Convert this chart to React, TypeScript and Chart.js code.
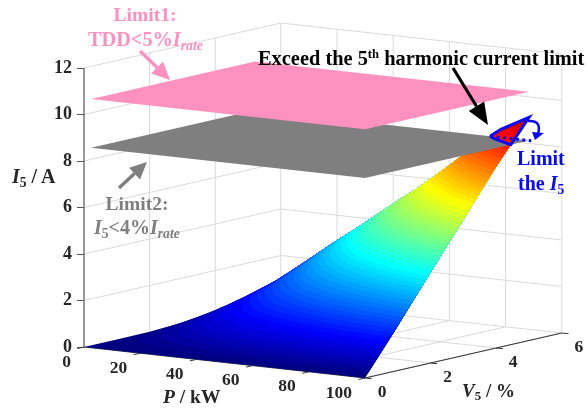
import React, { useEffect, useRef } from "react";
import { Chart, registerables } from "chart.js";

Chart.register(...registerables);

// ---- data ----
const P_GRID = [0, 10, 20, 30, 40, 50, 60, 70, 80, 90, 100];
const V_GRID = [0, 1, 2, 3, 4, 5];
const I_V0 = [0, 0, 0, 0, 0, 0, 0, 0, 0, 0, 0];
const I_V1 = [0, 0.18, 0.4, 0.62, 0.82, 1.0, 1.18, 1.38, 1.56, 1.75, 1.92];
const I_V2 = [0.01, 0.4, 0.82, 1.22, 1.62, 2.0, 2.38, 2.76, 3.14, 3.52, 3.9];
const I_V3 = [0.09, 0.66, 1.26, 1.84, 2.42, 3.0, 3.56, 4.14, 4.72, 5.28, 5.85];
const I_V4 = [0.26, 0.98, 1.72, 2.5, 3.26, 4.02, 4.78, 5.52, 6.28, 7.04, 7.8];
const I_V5 = [0.6, 1.38, 2.3, 3.25, 4.15, 5.1, 6.0, 7.0, 8.05, 8.95, 9.6];
const I_TABLE = [I_V0, I_V1, I_V2, I_V3, I_V4, I_V5];

const LIMIT1 = 10.7;
const LIMIT2 = 8.6;
const PLANE_P_MIN = 2.5;

const P_TICKS = [0, 20, 40, 60, 80, 100];
const V_TICKS = [0, 2, 4, 6];
const I_TICKS = [0, 2, 4, 6, 8, 10, 12];

// ---- view of the box ----
const X0 = 84;
const PX_P = 2.81;
const PX_V = 32.8;
const PY_P = 0.31;
const PY_V = -7.5;
const PX_I = 23.25;
const Y_ZERO = 347;
const W = 587;
const H = 409;

type Pt = { x: number; y: number };
const proj = (p: number, v: number, i: number): Pt => ({
  x: X0 + p * PX_P + v * PX_V,
  y: i - (p * PY_P + v * PY_V) / PX_I,
});

const SERIF = '"Liberation Serif", "Times New Roman", serif';
const GRID = "#dadada";
const AXIS = "#3a3a3a";
const PINK = "#ff91c1";
const GRAY = "#7f7f7f";
const BLUE = "#0a0aee";

const clamp = (x: number) => Math.max(0, Math.min(1, x));
const jet = (level: number) => {
  const t = level / 10;
  const c = (o: number) => Math.round(255 * clamp(1.5 - Math.abs(4 * t - o)));
  return `rgb(${c(3)},${c(2)},${c(1)})`;
};

function region(level: number): Pt[] {
  const pts: { p: number; v: number }[] = [];
  V_GRID.forEach((v, r) => {
    P_GRID.forEach((p, c) => {
      const a = I_TABLE[r][c];
      if (c + 1 < P_GRID.length) {
        const b = I_TABLE[r][c + 1];
        if (a < level !== b < level) pts.push({ p: p + ((level - a) / (b - a)) * (P_GRID[c + 1] - p), v });
      }
      if (r + 1 < V_GRID.length) {
        const b = I_TABLE[r + 1][c];
        if (a < level !== b < level) pts.push({ p, v: v + ((level - a) / (b - a)) * (V_GRID[r + 1] - v) });
      }
    });
  });
  pts.sort((m, n) => m.p - n.p || n.v - m.v);
  const out = pts.map((q) => proj(q.p, q.v, level));
  const last = P_GRID.length - 1;
  const top = V_GRID.length - 1;
  const add = (r: number, c: number) => {
    if (I_TABLE[r][c] >= level) out.push(proj(P_GRID[c], V_GRID[r], I_TABLE[r][c]));
  };
  for (let r = 0; r <= top; r++) add(r, last);
  for (let c = last - 1; c >= 0; c--) add(top, c);
  for (let r = top - 1; r >= 0; r--) add(r, 0);
  return out;
}

function seg(points: Pt[], color: string, width: number, order: number, extra: object = {}) {
  return {
    type: "scatter",
    data: points,
    showLine: true,
    pointRadius: 0,
    borderColor: color,
    borderWidth: width,
    backgroundColor: color,
    fill: false,
    tension: 0,
    clip: false,
    order,
    ...extra,
  };
}

function buildDatasets() {
  const ds: any[] = [];
  const P_MAX = 100;
  const V_MAX = 6;
  const I_MAX = 12;
  I_TICKS.slice(1).forEach((i) => {
    ds.push(seg([proj(0, 0, i), proj(0, V_MAX, i), proj(P_MAX, V_MAX, i)], GRID, 1, 1000));
  });
  V_TICKS.slice(1).forEach((v) => {
    ds.push(seg([proj(0, v, 0), proj(0, v, I_MAX)], GRID, 1, 1000));
    ds.push(seg([proj(0, v, 0), proj(P_MAX, v, 0)], GRID, 1, 1000));
  });
  P_TICKS.slice(1).forEach((p) => {
    ds.push(seg([proj(p, 0, 0), proj(p, V_MAX, 0), proj(p, V_MAX, I_MAX)], GRID, 1, 1000));
  });
  // axes
  ds.push(seg([proj(0, 0, 0), proj(0, 0, I_MAX)], "#555", 1.2, 950));
  ds.push(seg([proj(0, 0, 0), proj(P_MAX, 0, 0)], AXIS, 1.2, 950));
  ds.push(seg([proj(P_MAX, 0, 0), proj(P_MAX, V_MAX, 0)], AXIS, 1.2, 950));
  P_TICKS.forEach((p) => ds.push(seg([proj(p, 0, 0), proj(p, -0.2, 0)], AXIS, 1, 950)));
  V_TICKS.forEach((v) => ds.push(seg([proj(P_MAX, v, 0), proj(P_MAX + 2.4, v, 0)], AXIS, 1, 950)));

  // surface below Limit 2
  const STEP = 0.15;
  let n = 0;
  const lower: number[] = [];
  const upper: number[] = [LIMIT2];
  for (let k = 1; k * STEP < 9.6; k++) {
    const L = k * STEP;
    if (L < LIMIT2) lower.push(L);
    else upper.push(L);
  }
  const whole = [proj(0, 0, 0), proj(100, 0, 0), ...region(-1)];
  ds.push(seg(whole, jet(0), 0, 900, { fill: "shape" }));
  lower.forEach((L) => {
    n++;
    ds.push(seg(region(L), jet(L), 0, 900 - n * 0.1, { fill: "shape" }));
  });

  // Limit 2 plane
  const plane = (i: number) => [
    proj(PLANE_P_MIN, 0, i),
    proj(PLANE_P_MIN, 5, i),
    proj(100, 5, i),
    proj(100, 0, i),
  ];
  ds.push(seg(plane(LIMIT2), GRAY, 0, 400, { fill: "shape" }));

  // surface above Limit 2
  n = 0;
  upper.forEach((L) => {
    n++;
    ds.push(seg(region(L), jet(L), 0, 300 - n * 0.1, { fill: "shape" }));
  });
  const tip = region(LIMIT2);
  ds.push(seg([...tip, tip[0]], BLUE, 3, 200, { borderJoinStyle: "miter" }));
  ds.push(seg([tip[0], proj(100.8, 5, LIMIT2)], BLUE, 3, 190, { borderDash: [3, 3.5] }));

  // Limit 1 plane
  ds.push(seg(plane(LIMIT1), PINK, 0, 100, { fill: "shape" }));
  return ds;
}

function arrow(ctx: CanvasRenderingContext2D, x0: number, y0: number, x1: number, y1: number, color: string, lw: number, hl: number, hw: number) {
  const a = Math.atan2(y1 - y0, x1 - x0);
  const bx = x1 - hl * Math.cos(a);
  const by = y1 - hl * Math.sin(a);
  ctx.strokeStyle = color;
  ctx.fillStyle = color;
  ctx.lineWidth = lw;
  ctx.beginPath();
  ctx.moveTo(x0, y0);
  ctx.lineTo(bx, by);
  ctx.stroke();
  ctx.beginPath();
  ctx.moveTo(x1, y1);
  ctx.lineTo(bx - (hw / 2) * Math.sin(a), by + (hw / 2) * Math.cos(a));
  ctx.lineTo(bx + (hw / 2) * Math.sin(a), by - (hw / 2) * Math.cos(a));
  ctx.closePath();
  ctx.fill();
}

const boxLabels = {
  id: "boxLabels",
  afterDatasetsDraw(chart: any) {
    const { ctx, scales } = chart;
    ctx.save();
    ctx.font = `bold 17.5px ${SERIF}`;
    ctx.fillStyle = "#262626";
    ctx.textBaseline = "middle";
    ctx.textAlign = "right";
    P_TICKS.forEach((p) => {
      const q = proj(p, 0, 0);
      ctx.fillText(String(p), scales.x.getPixelForValue(q.x) - 13, scales.y.getPixelForValue(q.y) + 15);
    });
    ctx.textAlign = "center";
    V_TICKS.forEach((v) => {
      const q = proj(100, v, 0);
      ctx.fillText(String(v), scales.x.getPixelForValue(q.x) + 17, scales.y.getPixelForValue(q.y) + 14);
    });
    arrow(ctx, 140, 51, 170, 80, PINK, 3.4, 18, 17);
    arrow(ctx, 119, 188, 147, 162, GRAY, 3.4, 17, 16);
    arrow(ctx, 453, 68, 488, 125, "#000", 3.2, 22, 18);
    ctx.strokeStyle = BLUE;
    ctx.lineWidth = 2.5;
    ctx.beginPath();
    ctx.moveTo(528, 121);
    ctx.quadraticCurveTo(542, 120, 538, 134);
    ctx.stroke();
    ctx.fillStyle = BLUE;
    ctx.beginPath();
    ctx.moveTo(532, 132);
    ctx.lineTo(544, 133);
    ctx.lineTo(535, 140);
    ctx.closePath();
    ctx.fill();
    ctx.restore();
  },
};

const subStyle: React.CSSProperties = { fontSize: "0.68em", verticalAlign: "-0.28em", lineHeight: 0 };
const supStyle: React.CSSProperties = { fontSize: "0.62em", verticalAlign: "0.55em", lineHeight: 0 };

function Label(props: { x: number; y: number; color: string; size?: number; center?: boolean; children: React.ReactNode }) {
  const { x, y, color, size = 20, center, children } = props;
  return (
    <div
      style={{
        position: "absolute",
        left: x,
        top: y,
        transform: center ? "translate(-50%, -50%)" : "translateY(-50%)",
        color,
        font: `bold ${size}px ${SERIF}`,
        whiteSpace: "nowrap",
        lineHeight: 1,
      }}
    >
      {children}
    </div>
  );
}

export default function App() {
  const ref = useRef<HTMLCanvasElement>(null);
  useEffect(() => {
    const chart = new Chart(ref.current as HTMLCanvasElement, {
      type: "scatter",
      data: { datasets: buildDatasets() },
      plugins: [boxLabels],
      options: {
        animation: false,
        responsive: false,
        layout: { padding: 0 },
        plugins: { legend: { display: false }, tooltip: { enabled: false }, title: { display: false } },
        scales: {
          x: { type: "linear", display: false, min: X0, max: W },
          y: {
            type: "linear",
            position: "left",
            min: (Y_ZERO - H) / PX_I,
            max: Y_ZERO / PX_I,
            border: { display: false },
            grid: { drawOnChartArea: false, drawTicks: true, tickLength: 7, color: "#555" },
            ticks: {
              autoSkip: false,
              padding: 5,
              color: "#262626",
              font: { family: SERIF, size: 18, weight: "bold" },
              callback: (v: number) => String(v),
            },
            afterBuildTicks: (s: any) => {
              s.ticks = I_TICKS.map((value) => ({ value }));
            },
            afterFit: (s: any) => {
              s.width = X0;
              s.paddingTop = 0;
              s.paddingBottom = 0;
            },
          },
        },
      },
    } as any);
    return () => chart.destroy();
  }, []);

  return (
    <div style={{ position: "fixed", left: 0, top: 0, width: W, height: H, background: "#fff", overflow: "hidden", filter: "blur(0.45px)" }}>
      <canvas ref={ref} width={W} height={H} style={{ display: "block" }} />
      <Label x={145} y={15} color={PINK} size={19.5} center>Limit1:</Label>
      <Label x={88} y={39} color={PINK} size={20.3}>
        TDD&lt;5%<i>I</i><i style={subStyle}>rate</i>
      </Label>
      <Label x={137} y={204} color={GRAY} size={19.5} center>Limit2:</Label>
      <Label x={94} y={227} color={GRAY} size={20}>
        <i>I</i><span style={subStyle}>5</span>&lt;4%<i>I</i><i style={subStyle}>rate</i>
      </Label>
      <Label x={258} y={58} color="#000" size={20.4}>
        Exceed the 5<sup style={supStyle}>th</sup> harmonic current limit
      </Label>
      <Label x={517} y={158} color={BLUE} size={20}>Limit</Label>
      <Label x={518} y={183} color={BLUE} size={20}>
        the <i>I</i><span style={subStyle}>5</span>
      </Label>
      <Label x={12} y={176} color="#262626" size={20}>
        <i>I</i><span style={subStyle}>5</span> / A
      </Label>
      <Label x={163} y={397} color="#262626" size={19.5}>
        <i>P</i> / kW
      </Label>
      <Label x={462} y={390} color="#262626" size={19}>
        <i>V</i><span style={subStyle}>5</span> / %
      </Label>
    </div>
  );
}
